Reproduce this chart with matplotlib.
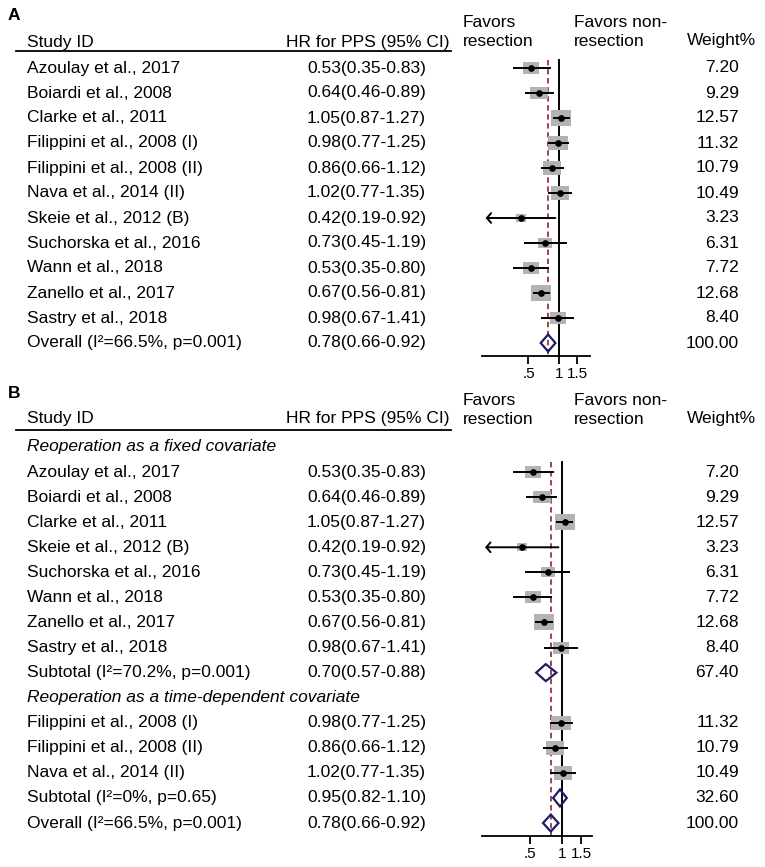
import matplotlib
matplotlib.use("Agg")
import matplotlib.pyplot as plt
from matplotlib.patches import Polygon
from matplotlib.path import Path
from matplotlib.ticker import NullLocator, FixedLocator, FixedFormatter

plt.rcParams['font.family'] = ['Liberation Sans', 'DejaVu Sans']

# ---- data ----
names_a = ["Azoulay et al., 2017", "Boiardi et al., 2008", "Clarke et al., 2011",
           "Filippini et al., 2008 (I)", "Filippini et al., 2008 (II)", "Nava et al., 2014 (II)",
           "Skeie et al., 2012 (B)", "Suchorska et al., 2016", "Wann et al., 2018",
           "Zanello et al., 2017", "Sastry et al., 2018"]
hr = [0.53, 0.64, 1.05, 0.98, 0.86, 1.02, 0.42, 0.73, 0.53, 0.67, 0.98]
lo = [0.35, 0.46, 0.87, 0.77, 0.66, 0.77, 0.19, 0.45, 0.35, 0.56, 0.67]
hi = [0.83, 0.89, 1.27, 1.25, 1.12, 1.35, 0.92, 1.19, 0.80, 0.81, 1.41]
weight = [7.20, 9.29, 12.57, 11.32, 10.79, 10.49, 3.23, 6.31, 7.72, 12.68, 8.40]

overall = (0.78, 0.66, 0.92, 100.00, "Overall (I\u00b2=66.5%, p=0.001)")

fixed_group = ["Azoulay et al., 2017", "Boiardi et al., 2008", "Clarke et al., 2011",
               "Skeie et al., 2012 (B)", "Suchorska et al., 2016", "Wann et al., 2018",
               "Zanello et al., 2017", "Sastry et al., 2018"]
fixed_sub = (0.70, 0.57, 0.88, 67.40, "Subtotal (I\u00b2=70.2%, p=0.001)")
time_group = ["Filippini et al., 2008 (I)", "Filippini et al., 2008 (II)", "Nava et al., 2014 (II)"]
time_sub = (0.95, 0.82, 1.10, 32.60, "Subtotal (I\u00b2=0%, p=0.65)")

tick_vals = [0.5, 1, 1.5]
tick_labels = [".5", "1", "1.5"]

study = {n: (hr[i], lo[i], hi[i], weight[i]) for i, n in enumerate(names_a)}

W, H = 765, 867
FS = 12.5
BOX_C = "#b3b3b3"
DIAM_C = "#1c1c6b"
RED_C = "#a3323a"

fig = plt.figure(figsize=(W / 100, H / 100), dpi=100)
ax0 = fig.add_axes([0, 0, 1, 1])
ax0.set_xlim(0, W)
ax0.set_ylim(H, 0)
ax0.axis("off")

box_marker = Path([(-1.35, -1), (1.35, -1), (1.35, 1), (-1.35, 1), (-1.35, -1)],
                  [Path.MOVETO, Path.LINETO, Path.LINETO, Path.LINETO, Path.CLOSEPOLY])


def forest_axes(x0, x1, ytop, ybot, xlim):
    ax = fig.add_axes([x0 / W, 1 - ybot / H, (x1 - x0) / W, (ybot - ytop) / H])
    ax.set_xscale("log")
    ax.set_xlim(*xlim)
    ax.set_ylim(ybot, ytop)
    ax.patch.set_alpha(0)
    for s in ["top", "left", "right"]:
        ax.spines[s].set_visible(False)
    ax.spines["bottom"].set_linewidth(1.3)
    ax.yaxis.set_visible(False)
    ax.xaxis.set_major_locator(FixedLocator(tick_vals))
    ax.xaxis.set_major_formatter(FixedFormatter(tick_labels))
    ax.xaxis.set_minor_locator(NullLocator())
    ax.tick_params(axis="x", direction="out", length=6, width=1.3, pad=2, labelsize=11)
    return ax


def draw_study(ax, y, h, l, u, w, xmin):
    ax.scatter([h], [y], marker=box_marker, s=17 * w, color=BOX_C, linewidths=0, zorder=2)
    if l < xmin * 1.12:
        ax.annotate("", xy=(l, y), xytext=(u, y),
                    arrowprops=dict(arrowstyle="->,head_length=0.3,head_width=0.35",
                                    lw=1.4, color="black", shrinkA=0, shrinkB=0), zorder=3)
    else:
        ax.plot([l, u], [y, y], color="black", lw=1.4, zorder=3, solid_capstyle="butt")
    ax.plot([h], [y], "o", color="black", ms=3.8, zorder=4)


def draw_diamond(ax, y, h, l, u):
    ax.add_patch(Polygon([(l, y), (h, y - 8.5), (u, y), (h, y + 8.5)], closed=True,
                         fill=False, edgecolor=DIAM_C, lw=1.6, zorder=4))


def header(label, ylab, yhead, yline, yfav):
    ax0.text(8, ylab, label, fontsize=FS, fontweight="bold", va="center", ha="left")
    ax0.text(27, yhead, "Study ID", fontsize=FS, va="center")
    ax0.text(450, yhead, "HR for PPS (95% CI)", fontsize=FS, va="center", ha="right")
    ax0.plot([16, 451], [yline, yline], color="black", lw=1.3)
    ax0.text(463, yfav, "Favors\nresection", fontsize=FS, va="center", linespacing=1.4)
    ax0.text(574, yfav, "Favors non-\nresection", fontsize=FS, va="center", linespacing=1.4)
    ax0.text(687, yfav + 9, "Weight%", fontsize=FS, va="center")


def row_text(y, name, h, l, u, w, italic=False):
    if italic:
        ax0.text(27, y, name, fontsize=FS, va="center", style="italic")
        return
    ax0.text(27, y, name, fontsize=FS, va="center")
    ax0.text(307, y, f"{h:.2f}({l:.2f}-{u:.2f})", fontsize=FS, va="center")
    ax0.text(739, y, f"{w:.2f}", fontsize=FS, va="center", ha="right")


# ---- panel A ----
header("A", 15, 42, 51, 32)
xl_a = (0.175, 2.01)
axa = forest_axes(482, 590, 55, 356, xl_a)
step = 25.0
y = 68
for n in names_a:
    h, l, u, w = study[n]
    row_text(y, n, h, l, u, w)
    draw_study(axa, y, h, l, u, w, xl_a[0])
    y += step
h, l, u, w, lab = overall
row_text(y, lab, h, l, u, w)
draw_diamond(axa, y, h, l, u)
axa.plot([1, 1], [60, 356], color="black", lw=1.4, zorder=1)
axa.plot([h, h], [60, 356], color=RED_C, lw=1.3, ls=(0, (3, 2)), zorder=1)

# ---- panel B ----
header("B", 393, 418, 430, 410)
xl_b = (0.178, 1.89)
axb = forest_axes(482, 592, 440, 836, xl_b)
step = 25.07
y = 447
row_text(y, "Reoperation as a fixed covariate", 0, 0, 0, 0, italic=True)
y += step
for n in fixed_group:
    h, l, u, w = study[n]
    row_text(y, n, h, l, u, w)
    draw_study(axb, y, h, l, u, w, xl_b[0])
    y += step
h, l, u, w, lab = fixed_sub
row_text(y, lab, h, l, u, w)
draw_diamond(axb, y, h, l, u)
y += step
row_text(y, "Reoperation as a time-dependent covariate", 0, 0, 0, 0, italic=True)
y += step
for n in time_group:
    h, l, u, w = study[n]
    row_text(y, n, h, l, u, w)
    draw_study(axb, y, h, l, u, w, xl_b[0])
    y += step
h, l, u, w, lab = time_sub
row_text(y, lab, h, l, u, w)
draw_diamond(axb, y, h, l, u)
y += step
h, l, u, w, lab = overall
row_text(y, lab, h, l, u, w)
draw_diamond(axb, y, h, l, u)
axb.plot([1, 1], [462, 836], color="black", lw=1.4, zorder=1)
axb.plot([h, h], [462, 836], color=RED_C, lw=1.3, ls=(0, (3, 2)), zorder=1)

fig.savefig("out.png", dpi=100)
